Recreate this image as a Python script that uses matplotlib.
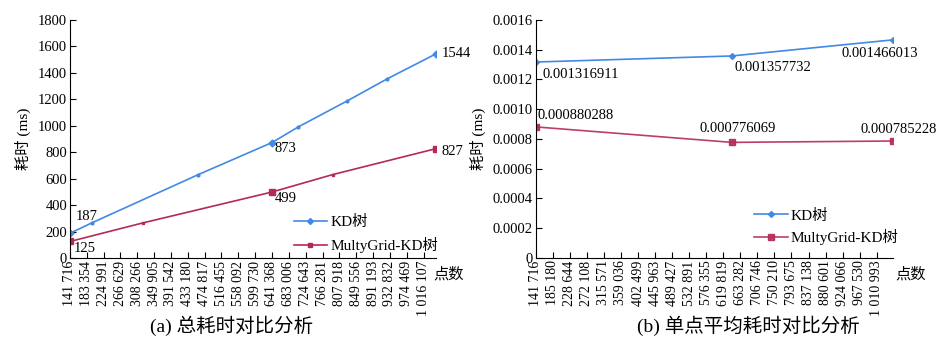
import numpy as np
import matplotlib
matplotlib.use('Agg')
import matplotlib.pyplot as plt
from matplotlib.ticker import FixedLocator, FuncFormatter

plt.rcParams['font.family'] = ['Liberation Serif', 'Noto Sans CJK SC']
plt.rcParams['font.size'] = 10

# (a) 总耗时 (ms)
kd_x = [141716, 195300, 459300, 641368, 706800, 828000, 927000, 1047000]
kd_y = [187, 265, 631, 873, 992, 1189, 1356, 1544]
mg_x = [141716, 321500, 641368, 791700, 1047000]
mg_y = [125, 265, 499, 631, 827]
kd_lab_idx = [0, 3, 7]
mg_lab_idx = [0, 2, 4]
ticks_a = [141716, 183354, 224991, 266629, 308266, 349905, 391542, 433180,
           474817, 516455, 558092, 599730, 641368, 683006, 724643, 766281,
           807918, 849556, 891193, 932832, 974469, 1016107]

# (b) 单点平均耗时 (ms)
pts_b = [141716, 641368, 1051800]
kd_b = [0.001316911, 0.001357732, 0.001466013]
mg_b = [0.000880288, 0.000776069, 0.000785228]
ticks_b = [141716, 185180, 228644, 272108, 315571, 359036, 402499, 445963,
           489427, 532891, 576355, 619819, 663282, 706746, 750210, 793675,
           837138, 880601, 924066, 967530, 1010993]

blue = '#4289e6'
red = '#b5285a'

fig = plt.figure(figsize=(9.47, 3.48), dpi=100)
ax1 = fig.add_axes([0.0739, 0.2586, 0.3865, 0.684])
ax2 = fig.add_axes([0.5657, 0.2596, 0.377, 0.683])


def space_fmt(v, pos):
    return f"{int(round(v)):,}".replace(",", " ")


def style(ax, ticks, xmax, lab_x):
    ax.spines['top'].set_visible(False)
    ax.spines['right'].set_visible(False)
    ax.set_xlim(ticks[0], xmax)
    ax.xaxis.set_major_locator(FixedLocator(ticks))
    ax.xaxis.set_major_formatter(FuncFormatter(space_fmt))
    ax.tick_params(axis='x', direction='in', length=4, rotation=90, pad=2, labelsize=10)
    ax.tick_params(axis='y', direction='in', length=4, pad=2, labelsize=10.5)
    ax.set_ylabel('耗时 (ms)', labelpad=5, fontsize=11)
    ax.text(lab_x, -0.038, '点数', transform=ax.transAxes, ha='left', va='top', fontsize=11)


# ---- (a)
ax1.plot(kd_x, kd_y, color=blue, lw=1.2, marker='o', ms=2)
ax1.plot([kd_x[i] for i in kd_lab_idx], [kd_y[i] for i in kd_lab_idx],
         ls='none', marker='D', ms=3.5, color=blue)
ax1.plot(mg_x, mg_y, color=red, lw=1.2, marker='s', ms=2)
ax1.plot([mg_x[i] for i in mg_lab_idx], [mg_y[i] for i in mg_lab_idx],
         ls='none', marker='s', ms=4, color=red)
ax1.set_ylim(0, 1800)
ax1.set_yticks(np.arange(0, 1801, 200))
style(ax1, ticks_a, 1047000, 0.992)

offs_kd = [(4, 12), (2, -4), (4, 0)]
for i, off in zip(kd_lab_idx, offs_kd):
    ax1.annotate(str(kd_y[i]), (kd_x[i], kd_y[i]), xytext=off, textcoords='offset points',
                 va='center', ha='left', fontsize=10.5, annotation_clip=False)
offs_mg = [(3, -5), (2, -5), (4, -2)]
for i, off in zip(mg_lab_idx, offs_mg):
    ax1.annotate(str(mg_y[i]), (mg_x[i], mg_y[i]), xytext=off, textcoords='offset points',
                 va='center', ha='left', fontsize=10.5, annotation_clip=False)

h1 = ax1.plot([], [], color=blue, lw=1.2, marker='D', ms=3, label='KD树')[0]
h2 = ax1.plot([], [], color=red, lw=1.2, marker='s', ms=3.5, label='MultyGrid-KD树')[0]
ax1.legend(handles=[h1, h2], loc='center left', bbox_to_anchor=(0.59, 0.1), frameon=False,
           handlelength=2.2, handletextpad=0.2, labelspacing=0.5, borderpad=0, fontsize=11)
fig.text(0.245, 0.035, '(a) 总耗时对比分析', ha='center', va='bottom', fontsize=14)

# ---- (b)
ax2.plot(pts_b, kd_b, color=blue, lw=1.2, marker='D', ms=3, label='KD树')
ax2.plot(pts_b, mg_b, color=red, lw=1.2, marker='s', ms=4, label='MultyGrid-KD树', alpha=0.9)
ax2.set_ylim(0, 0.0016)
ax2.set_yticks(np.arange(0, 0.00161, 0.0002))
ax2.yaxis.set_major_formatter(FuncFormatter(lambda v, p: '0' if abs(v) < 1e-12 else f'{v:.4f}'))
style(ax2, ticks_b, 1051800, 1.006)

offs_kdb = [((5, -9), 'left'), ((2, -8), 'left'), ((-9, -10), 'center')]
for x, y, (off, ha) in zip(pts_b, kd_b, offs_kdb):
    ax2.annotate(f'{y:.9f}', (x, y), xytext=off, textcoords='offset points',
                 va='center', ha=ha, fontsize=10.5)
offs_mgb = [((1, 8), 'left'), ((4, 10), 'center'), ((4, 8), 'center')]
for x, y, (off, ha) in zip(pts_b, mg_b, offs_mgb):
    ax2.annotate(f'{y:.9f}', (x, y), xytext=off, textcoords='offset points',
                 va='center', ha=ha, fontsize=10.5, annotation_clip=False)
ax2.legend(loc='center left', bbox_to_anchor=(0.59, 0.13), frameon=False,
           handlelength=2.2, handletextpad=0.2, labelspacing=0.4, borderpad=0, fontsize=11)
fig.text(0.79, 0.035, '(b) 单点平均耗时对比分析', ha='center', va='bottom', fontsize=14)

fig.savefig('out.png', dpi=100)
